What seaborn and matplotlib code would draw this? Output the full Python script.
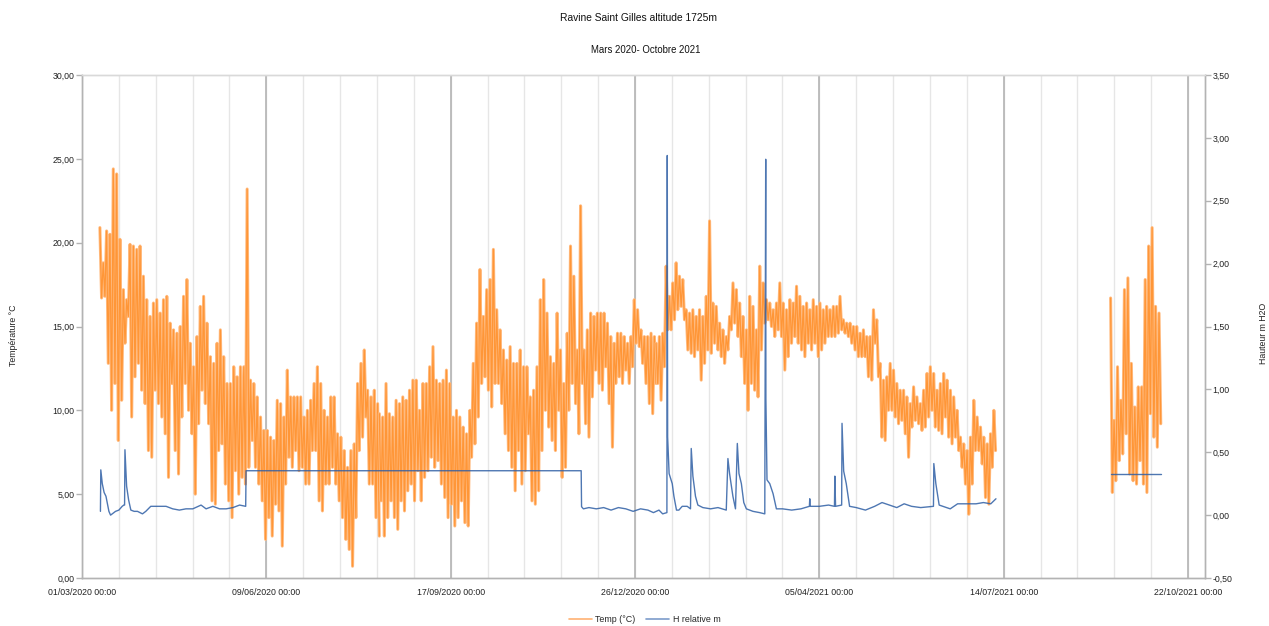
import numpy as np
import pandas as pd
import matplotlib
matplotlib.use("Agg")
import matplotlib.pyplot as plt
from matplotlib.lines import Line2D
import seaborn as sns

# ---------------------------------------------------------------------------
# Temperature record (°C): successive daily highs / lows, in four logger runs
# ---------------------------------------------------------------------------
run_a_start, run_a_end = "2020-03-10 17:00", "2020-08-09 07:00"
run_a_max = [20.9, 18.8, 20.7, 20.5, 24.4, 24.1, 20.2, 17.2, 16.6, 19.9,
             19.8, 19.6, 19.8, 18.0, 16.6, 15.6, 16.4, 16.6, 15.8, 16.6,
             16.8, 15.2, 14.8, 14.6, 15.0, 16.8, 17.8, 14.0, 12.6, 14.4,
             16.2, 16.8, 15.2, 13.2, 12.8, 14.0, 14.8, 13.2, 11.6, 11.6,
             12.6, 12.0, 12.6, 12.6, 23.2, 11.8, 11.6, 10.8, 9.6, 8.8,
             8.8, 8.4, 8.2, 10.6, 10.4, 9.6, 12.4, 10.8, 10.8, 10.8,
             10.8, 9.6, 10.0, 10.6, 11.6, 12.6, 11.6, 10.0, 9.6, 10.8,
             10.8, 8.6, 8.4, 7.6, 6.6, 7.6, 8.0, 11.6, 12.8, 13.6,
             11.2, 10.8, 11.2, 10.4]
run_a_min = [16.7, 16.8, 12.8, 10.0, 11.6, 8.2, 10.6, 14.0, 15.6, 9.6,
             12.0, 12.8, 11.2, 10.4, 7.6, 7.2, 11.2, 10.4, 9.6, 8.6,
             6.0, 11.6, 7.6, 6.2, 9.6, 11.6, 10.0, 8.6, 5.0, 9.2,
             11.2, 10.4, 9.2, 4.6, 4.4, 7.6, 8.0, 5.6, 4.6, 3.6,
             6.4, 5.0, 6.0, 5.6, 6.6, 8.2, 6.6, 5.6, 4.6, 2.3,
             3.6, 2.5, 4.4, 4.0, 1.9, 5.6, 7.2, 6.6, 7.6, 6.4,
             6.6, 5.6, 5.6, 7.6, 7.6, 4.6, 4.0, 5.6, 5.6, 6.6,
             5.6, 4.6, 3.6, 2.3, 1.7, 0.7, 3.6, 7.6, 8.4, 9.6,
             5.6, 5.6, 3.6, 2.5]

run_b_start, run_b_end = "2020-08-09 07:00", "2021-01-06 10:00"
run_b_max = [9.8, 9.6, 11.6, 9.8, 9.6, 10.6, 10.4, 10.8, 10.6, 11.2,
             11.8, 11.8, 10.0, 11.6, 11.6, 12.6, 13.8, 11.8, 11.6, 11.8,
             12.4, 11.6, 9.6, 10.0, 9.6, 9.0, 8.6, 10.0, 12.8, 15.2,
             18.4, 15.6, 17.2, 17.8, 19.6, 16.0, 14.8, 13.6, 13.0, 13.8,
             12.8, 12.8, 13.6, 12.6, 12.6, 10.8, 11.2, 12.6, 16.6, 17.8,
             15.8, 13.2, 12.8, 15.8, 13.6, 11.6, 14.6, 19.8, 18.0, 13.6,
             22.2, 13.6, 14.8, 15.8, 15.6, 15.8, 15.8, 15.8, 15.2, 14.4,
             14.0, 14.6, 14.6, 14.4, 14.0, 14.4, 16.6, 16.0, 14.8, 14.4,
             14.4, 14.6, 14.4]
run_b_min = [4.6, 2.5, 3.6, 4.6, 3.6, 2.9, 4.6, 4.0, 5.2, 5.6,
             4.6, 6.4, 4.6, 6.0, 6.4, 7.2, 6.6, 7.0, 5.6, 4.8,
             3.6, 4.4, 3.1, 3.6, 4.6, 3.3, 3.1, 7.2, 8.0, 9.6,
             11.6, 12.0, 11.2, 10.2, 11.6, 11.6, 10.4, 8.6, 7.6, 6.6,
             5.2, 7.6, 5.6, 6.4, 8.6, 4.6, 4.4, 5.2, 7.6, 10.0,
             9.0, 8.2, 7.6, 10.0, 6.0, 6.6, 10.0, 11.6, 10.4, 8.6,
             11.6, 9.2, 8.4, 10.8, 12.4, 11.6, 11.2, 12.6, 10.4, 7.8,
             11.6, 12.0, 11.6, 12.4, 11.6, 12.6, 14.0, 13.8, 12.8, 11.6,
             10.4, 9.8, 11.6]

run_c_start, run_c_end = "2021-01-06 10:00", "2021-07-09 14:00"
run_c_max = [14.0, 14.4, 14.6, 18.6, 16.8, 17.6, 18.8, 18.0, 17.8, 16.0,
             15.8, 16.0, 15.6, 16.0, 15.6, 16.8, 21.3, 16.4, 16.2, 15.2,
             14.8, 14.4, 15.6, 17.6, 17.2, 16.4, 15.6, 14.8, 16.8, 16.2,
             14.8, 18.6, 17.6, 16.6, 16.4, 16.0, 16.4, 17.6, 16.4, 16.0,
             16.6, 16.4, 17.4, 16.8, 16.2, 16.4, 16.0, 16.6, 16.2, 16.4,
             16.0, 16.2, 16.0, 16.2, 16.2, 16.8, 15.4, 15.2, 15.2, 15.0,
             15.0, 14.6, 14.8, 14.4, 14.4, 16.0, 15.4, 12.8, 11.8, 12.0,
             12.8, 12.4, 11.6, 11.2, 11.2, 10.8, 10.4, 11.4, 10.8, 10.4,
             11.2, 12.2, 12.6, 12.2, 11.2, 11.6, 12.2, 11.8, 11.2, 10.8,
             10.0, 8.4, 8.0, 7.6, 8.4, 10.6, 9.6, 9.0, 8.4, 8.0,
             8.6, 10.0]
run_c_min = [11.6, 10.6, 12.6, 14.8, 14.8, 15.4, 16.0, 16.2, 15.4, 13.6,
             13.4, 13.2, 13.6, 11.8, 12.8, 13.6, 13.4, 14.0, 13.6, 13.2,
             12.8, 13.6, 14.8, 15.2, 14.4, 13.2, 11.6, 10.0, 11.6, 11.2,
             10.8, 13.6, 15.2, 15.4, 15.0, 14.4, 14.8, 14.4, 12.4, 13.2,
             14.0, 14.4, 14.0, 13.6, 13.2, 14.0, 13.6, 14.0, 13.2, 13.6,
             14.0, 14.4, 14.4, 14.4, 14.6, 14.8, 14.6, 14.4, 14.0, 13.6,
             13.2, 13.2, 13.2, 12.0, 11.8, 14.0, 12.0, 8.4, 8.2, 10.0,
             10.0, 9.6, 9.2, 9.4, 8.6, 7.2, 9.0, 9.4, 9.2, 8.8,
             9.0, 9.6, 10.0, 9.0, 8.8, 8.6, 9.6, 8.4, 8.0, 8.4,
             7.6, 6.6, 5.6, 3.8, 5.6, 7.6, 7.6, 6.8, 4.8, 4.4,
             6.6, 7.6]

run_d_start, run_d_end = "2021-09-10 00:00", "2021-10-07 05:00"
run_d_max = [16.7, 9.4, 12.6, 10.6, 17.2, 17.9, 12.8, 10.2, 11.4, 11.4,
             17.8, 19.8, 20.9, 16.2, 15.8]
run_d_min = [5.1, 5.8, 7.0, 7.4, 8.6, 6.2, 5.8, 5.6, 7.0, 5.6,
             5.1, 9.8, 8.4, 7.8, 9.2]

# ---------------------------------------------------------------------------
# Relative water height (m H2O), days counted from 1 March 2020
# ---------------------------------------------------------------------------
h_origin = "2020-03-01"
h1_days = [10.0, 10.2, 11.0, 12.0, 13.0, 14.6, 15.5, 16.4, 18.2, 20.0,
           21.8, 22.7, 23.1, 23.3, 24.2, 25.3, 26.5, 28.3, 30.1, 32.8,
           34.6, 37.3, 42.0, 45.6, 49.2, 52.8, 56.4, 60.1, 64.6, 67.3,
           71.0, 74.6, 78.2, 81.9, 85.5, 88.8, 89.0, 270.8, 271.0, 272.0,
           275.0, 279.0, 283.0, 287.0, 291.0, 295.0, 299.0, 303.0, 307.0, 310.0,
           313.0, 315.0, 317.3, 317.5, 317.7, 318.5, 320.2, 321.1, 322.5, 323.8,
           325.6, 328.3, 330.1, 330.5, 331.4, 332.8, 334.1, 336.8, 341.0, 345.0,
           349.5, 350.4, 351.3, 353.1, 354.5, 355.5, 356.4, 357.7, 359.0, 360.4,
           364.0, 367.6, 370.4, 370.9, 371.0, 371.6, 373.1, 374.9, 376.7, 380.0,
           385.0, 390.0, 394.6, 394.8, 395.0, 400.0, 405.0, 408.2, 408.4, 408.8,
           412.1, 412.3, 413.2, 414.6, 416.4, 420.0, 425.0, 430.0, 434.0, 438.0,
           442.0, 446.0, 450.0, 455.0, 461.9, 462.1, 463.2, 465.0, 467.0, 471.0,
           475.0, 480.0, 485.0, 489.0, 493.0, 495.8]
h1_vals = [0.03, 0.36, 0.25, 0.18, 0.15, 0.03, 0.00, 0.01, 0.03, 0.04,
           0.07, 0.08, 0.08, 0.52, 0.23, 0.12, 0.04, 0.03, 0.03, 0.01,
           0.03, 0.07, 0.07, 0.07, 0.05, 0.04, 0.05, 0.05, 0.08, 0.05,
           0.07, 0.05, 0.05, 0.06, 0.08, 0.07, 0.353, 0.353, 0.067, 0.05,
           0.06, 0.05, 0.06, 0.04, 0.06, 0.05, 0.03, 0.05, 0.04, 0.02,
           0.04, 0.01, 0.02, 2.86, 0.62, 0.33, 0.25, 0.15, 0.04, 0.04,
           0.07, 0.07, 0.05, 0.53, 0.31, 0.15, 0.08, 0.06, 0.05, 0.06,
           0.04, 0.45, 0.33, 0.15, 0.05, 0.57, 0.33, 0.25, 0.10, 0.05,
           0.03, 0.02, 0.01, 2.83, 0.92, 0.28, 0.25, 0.17, 0.05, 0.05,
           0.04, 0.05, 0.07, 0.13, 0.07, 0.07, 0.08, 0.07, 0.31, 0.07,
           0.08, 0.73, 0.35, 0.25, 0.07, 0.06, 0.04, 0.07, 0.10, 0.08,
           0.06, 0.09, 0.07, 0.06, 0.07, 0.41, 0.25, 0.08, 0.07, 0.05,
           0.09, 0.09, 0.09, 0.10, 0.09, 0.13]
h2_days = [558.0, 585.2]
h2_vals = [0.33, 0.33]

# Axis ticks and labels
date_ticks = ["2020-03-01", "2020-06-09", "2020-09-17", "2020-12-26",
              "2021-04-05", "2021-07-14", "2021-10-22"]
date_tick_labels = ["01/03/2020 00:00", "09/06/2020 00:00", "17/09/2020 00:00",
                    "26/12/2020 00:00", "05/04/2021 00:00", "14/07/2021 00:00",
                    "22/10/2021 00:00"]
temp_ticks = [0, 5, 10, 15, 20, 25, 30]
h_ticks = [-0.5, 0.0, 0.5, 1.0, 1.5, 2.0, 2.5, 3.0, 3.5]
x_range = ("2020-03-01", "2021-10-31 05:00")

temp_light = "#ffbb80"
temp_dark = "#ff8a1f"
h_color = "#2f5fa5"
grey = "#b3b3b3"


def daily_swing(start, end, highs, lows):
    """Alternate each day's high and low along the run's time span."""
    vals = np.ravel(np.column_stack([highs, lows]))
    t = pd.date_range(start, end, periods=len(vals))
    return pd.DataFrame({"time": t, "temp": vals})


def height_frame(days, vals):
    t = pd.Timestamp(h_origin) + pd.to_timedelta(np.asarray(days), unit="D")
    return pd.DataFrame({"time": t, "h": vals})


sns.set_theme(style="white")
plt.rcParams["font.family"] = ["Liberation Sans", "DejaVu Sans"]

fig = plt.figure(figsize=(12.69, 6.26), dpi=100)
ax = fig.add_axes([82 / 1269, 1 - 578 / 626, (1205 - 82) / 1269, (578 - 75) / 626])

runs = [(run_a_start, run_a_end, run_a_max, run_a_min),
        (run_b_start, run_b_end, run_b_max, run_b_min),
        (run_c_start, run_c_end, run_c_max, run_c_min),
        (run_d_start, run_d_end, run_d_max, run_d_min)]
for start, end, hi, lo in runs:
    frame = daily_swing(start, end, hi, lo)
    # pale wide stroke underneath, sharper trace on top
    sns.lineplot(data=frame, x="time", y="temp", ax=ax, color=temp_light,
                 linewidth=2.2, estimator=None, sort=False, legend=False)
    sns.lineplot(data=frame, x="time", y="temp", ax=ax, color=temp_dark,
                 alpha=0.75, linewidth=0.9, estimator=None, sort=False,
                 legend=False)

ax2 = ax.twinx()
for days, vals in [(h1_days, h1_vals), (h2_days, h2_vals)]:
    sns.lineplot(data=height_frame(days, vals), x="time", y="h", ax=ax2,
                 color=h_color, alpha=0.85, linewidth=1.0,
                 estimator=None, sort=False, legend=False)

# X axis: labelled every 100 days, light guides every 20 days
major = pd.to_datetime(date_ticks)
minor = pd.date_range(date_ticks[0], date_ticks[-1], freq="20D")
ax.set_xlim(pd.Timestamp(x_range[0]), pd.Timestamp(x_range[1]))
ax.set_xticks(major)
ax.set_xticklabels(date_tick_labels)
ax.set_xticks(minor, minor=True)
ax.grid(False)
ax2.grid(False)
for t in minor:
    ax.axvline(t, color="#e6e6e6", linewidth=1.0, zorder=0)
for t in major:
    ax.axvline(t, color="#b4b4b4", linewidth=1.2, zorder=0)

ax.set_ylim(0, 30)
ax.set_yticks(temp_ticks)
ax.set_yticklabels([f"{v:.2f}".replace(".", ",") for v in temp_ticks])
ax2.set_ylim(-0.5, 3.5)
ax2.set_yticks(h_ticks)
ax2.set_yticklabels([f"{v:.2f}".replace(".", ",") for v in h_ticks])

ax.set_xlabel("")
ax.set_ylabel("")
ax2.set_xlabel("")
ax2.set_ylabel("")

ax.tick_params(axis="x", which="major", length=4, width=1, color=grey,
               labelsize=6.3, pad=3, labelcolor="#222222")
ax.tick_params(axis="x", which="minor", length=0)
ax.tick_params(axis="y", length=4, width=1, color=grey, labelsize=6.3,
               pad=1.5, labelcolor="#222222", left=True)
ax2.tick_params(axis="y", length=4, width=1, color=grey, labelsize=6.3,
                pad=1.5, labelcolor="#222222", right=True)
for a in (ax, ax2):
    for s in a.spines.values():
        s.set_color(grey)
        s.set_linewidth(1.0)
ax.spines["top"].set_color("#d9d9d9")
ax2.spines["top"].set_color("#d9d9d9")

# Titles, axis titles, legend
fig.text(0.503, 1 - 18 / 626, "Ravine Saint Gilles altitude 1725m",
         ha="center", va="center", fontsize=7.4, color="#111111")
fig.text(0.509, 1 - 50 / 626, "Mars 2020- Octobre 2021",
         ha="center", va="center", fontsize=6.9, color="#111111")
fig.text(14 / 1269, 1 - 335 / 626, "Température °C", rotation=90,
         ha="center", va="center", fontsize=6.3, color="#222222")
fig.text(1263 / 1269, 1 - 333 / 626, "Hauteur m H2O", rotation=90,
         ha="center", va="center", fontsize=6.3, color="#222222")

handles = [Line2D([], [], color="#ffb273", linewidth=1.2),
           Line2D([], [], color="#7d9ccb", linewidth=1.2)]
fig.legend(handles, ["Temp (°C)", "H relative m"], loc="center",
           bbox_to_anchor=(0.508, 1 - 620 / 626), ncol=2, frameon=False,
           fontsize=6.4, handlelength=2.6, handletextpad=0.4, columnspacing=1.2)

fig.savefig("out.png", dpi=100)
